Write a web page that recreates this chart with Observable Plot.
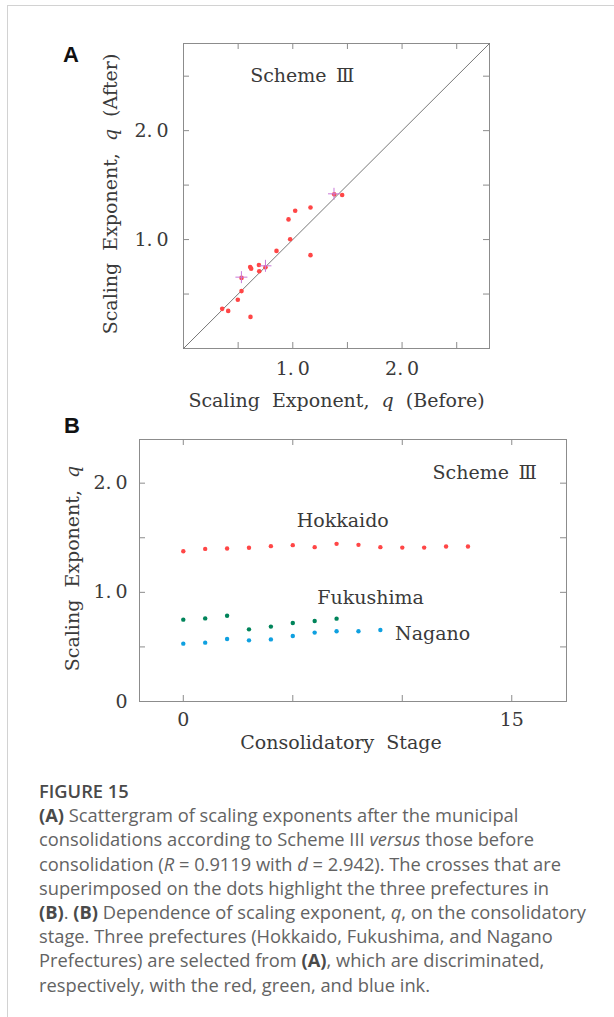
<!DOCTYPE html>
<html><head><meta charset="utf-8">
<script src="https://cdn.jsdelivr.net/npm/d3@7"></script>
<script src="https://cdn.jsdelivr.net/npm/@observablehq/plot@0.6"></script>
<style>
html,body{margin:0;padding:0;background:#fff;}
#page{position:relative;width:614px;height:1017px;overflow:hidden;background:#fff;}
#border{position:absolute;left:7px;top:5px;right:-2px;bottom:-2px;border-top:1px solid #d2d2d2;border-left:1px solid #d2d2d2;}
.letter{position:absolute;font-family:"Liberation Sans",Arial,sans-serif;font-weight:bold;font-size:22px;line-height:22px;color:#111;}
#chartA{position:absolute;left:0;top:0;}
#chartB{position:absolute;left:0;top:410px;}
#caption{position:absolute;left:39px;top:779px;font-family:"Open Sans",sans-serif;font-size:18.3px;line-height:24.2px;color:#636363;white-space:nowrap;}
#caption .fig{font-weight:600;color:#4a4a4a;}
#caption b{font-weight:700;color:#4a4a4a;}
</style>
</head><body>
<div id="page">
  <div id="border"></div>
  <div class="letter" style="left:63px;top:44px;">A</div>
  <div class="letter" style="left:64px;top:415px;">B</div>
  <div id="chartA"></div>
  <div id="chartB"></div>
  <div id="caption">
    <div class="fig">FIGURE 15</div>
    <div><b>(A)</b> Scattergram of scaling exponents after the municipal<br>consolidations according to Scheme III <i>versus</i> those before<br>consolidation (<i>R</i> = 0.9119 with <i>d</i> = 2.942). The crosses that are<br>superimposed on the dots highlight the three prefectures in<br><b>(B)</b>. <b>(B)</b> Dependence of scaling exponent, <i>q</i>, on the consolidatory<br>stage. Three prefectures (Hokkaido, Fukushima, and Nagano<br>Prefectures) are selected from <b>(A)</b>, which are discriminated,<br>respectively, with the red, green, and blue ink.</div>
  </div>
</div>
<script>
// ---------- Panel A data: scaling exponent q before / after consolidation ----------
const qBefore = [0.354, 0.409, 0.497, 0.531, 0.531, 0.613, 0.610, 0.619, 0.690, 0.693, 0.750, 0.851, 0.976, 0.961, 1.022, 1.162, 1.162, 1.379, 1.452];
const qAfter  = [0.364, 0.345, 0.448, 0.527, 0.648, 0.290, 0.748, 0.733, 0.766, 0.709, 0.745, 0.896, 1.003, 1.185, 1.264, 1.294, 0.857, 1.415, 1.409];

// ---------- Panel B data: q by consolidatory stage ----------
const prefNames = ["Hokkaido", "Fukushima", "Nagano"];
const qHokkaido  = [1.377, 1.398, 1.401, 1.408, 1.423, 1.432, 1.414, 1.444, 1.435, 1.414, 1.410, 1.410, 1.420, 1.420];
const qFukushima = [0.750, 0.761, 0.786, 0.661, 0.686, 0.719, 0.738, 0.759];
const qNagano    = [0.530, 0.539, 0.573, 0.560, 0.569, 0.600, 0.631, 0.643, 0.643, 0.655];
const prefColors = ["#ff4646", "#00845a", "#0fa0e0"];

// ---------- axes ----------
const domainA = [0, 2.8];
const ticksA = [0.5, 1, 1.5, 2, 2.5];
const labelsA = [1, 2];
const domainBx = [-2, 17.5];
const domainBy = [0, 2.4];
const ticksBx = [0, 5, 10, 15];
const labelsBx = [0, 15];
const ticksBy = [0.5, 1, 1.5, 2];
const labelsBy = [0, 1, 2];

// ---------- text ----------
const xLabelA = "Scaling Exponent, q (Before)";
const yLabelA = "Scaling Exponent, q (After)";
const xLabelB = "Consolidatory Stage";
const yLabelB = "Scaling Exponent, q";
const annotA = [{text: "Scheme\u2002Ⅲ", x: 0.61, y: 2.5}];
const annotB = [
  {text: "Scheme\u2002Ⅲ", x: 11.38, y: 2.096, anchor: "start"},
  {text: "Hokkaido", x: 7.28, y: 1.654, anchor: "middle"},
  {text: "Fukushima", x: 8.55, y: 0.953, anchor: "middle"},
  {text: "Nagano", x: 9.67, y: 0.622, anchor: "start"}
];

// ---------- derived tables ----------
const series = [qHokkaido, qFukushima, qNagano];
const ptsA = qBefore.map((b, i) => ({before: b, after: qAfter[i]}));
const crosses = series.map(v => ({before: v[0], after: v[v.length - 1]}));
const ptsB = series.flatMap((v, k) => v.map((q, stage) => ({name: prefNames[k], stage, q})));

const SERIF = '"DejaVu Serif", "Liberation Serif", serif';
const INK = "#3a3a3a";
const FRAME = "#8c8c8c";
const TICK = 6;
const fmt = d => d === 0 ? "0" : d.toFixed(1).replace(".", ".\u2009");
const fmtInt = d => String(d);

const crossSymbol = {
  draw(ctx, size) {
    const r = Math.sqrt(size / Math.PI);
    ctx.moveTo(-r, 0); ctx.lineTo(r, 0);
    ctx.moveTo(0, -r); ctx.lineTo(0, r);
  }
};

function italicQ(svg) {
  d3.select(svg).selectAll("text").each(function() {
    if (this.querySelector("tspan")) return;
    const t = this.textContent;
    if (!/\bq\b/.test(t)) return;
    const parts = t.split(/(\bq\b)/);
    this.textContent = "";
    for (const p of parts) {
      if (!p) continue;
      const ts = d3.select(this).append("tspan").text(p);
      if (p === "q") ts.attr("font-style", "italic");
    }
  });
}

const chartStyle = {fontFamily: SERIF, fontSize: "19px", color: INK, background: "transparent", overflow: "visible", wordSpacing: "6px"};

// ---------- Panel A ----------
{
  const W = 614, H = 415, mt = 43, ml = 183, mr = 125, mb = 67;
  const fw = W - ml - mr, fh = H - mt - mb;
  const chart = Plot.plot({
    width: W, height: H, marginTop: mt, marginLeft: ml, marginRight: mr, marginBottom: mb,
    x: {domain: domainA}, y: {domain: domainA},
    style: chartStyle,
    marks: [
      Plot.frame({stroke: FRAME}),
      Plot.ruleX(ticksA, {x: d => d, stroke: FRAME, insetTop: fh - TICK}),
      Plot.ruleX(ticksA, {x: d => d, stroke: FRAME, insetBottom: fh - TICK}),
      Plot.ruleY(ticksA, {y: d => d, stroke: FRAME, insetRight: fw - TICK}),
      Plot.ruleY(ticksA, {y: d => d, stroke: FRAME, insetLeft: fw - TICK}),
      Plot.line(domainA.map(v => ({v})), {x: "v", y: "v", stroke: "#777", strokeWidth: 1}),
      Plot.dot(ptsA, {x: "before", y: "after", r: 2.3, fill: prefColors[0], stroke: "none"}),
      Plot.dot(crosses, {x: "before", y: "after", r: 6, symbol: crossSymbol, fill: "none", stroke: "#c97ad8", strokeWidth: 1}),
      Plot.axisX({ticks: labelsA, tickSize: 0, tickPadding: 13, tickFormat: fmt, label: null, fill: INK}),
      Plot.axisY({ticks: labelsA, tickSize: 0, tickPadding: 15, tickFormat: fmt, label: null, fill: INK}),
      Plot.text([xLabelA], {text: d => d, frameAnchor: "bottom", textAnchor: "middle", lineAnchor: "middle", dy: 52, fill: INK}),
      Plot.text([yLabelA], {text: d => d, frameAnchor: "left", textAnchor: "middle", lineAnchor: "middle", rotate: -90, dx: -73, dy: -2, fill: INK}),
      Plot.text(annotA, {x: "x", y: "y", text: "text", textAnchor: "start", fill: INK})
    ]
  });
  italicQ(chart);
  document.getElementById("chartA").append(chart);
}

// ---------- Panel B ----------
{
  const W = 614, H = 350, mt = 29, ml = 139, mr = 48, mb = 59;
  const fw = W - ml - mr, fh = H - mt - mb;
  const chart = Plot.plot({
    width: W, height: H, marginTop: mt, marginLeft: ml, marginRight: mr, marginBottom: mb,
    x: {domain: domainBx}, y: {domain: domainBy},
    color: {domain: prefNames, range: prefColors},
    style: chartStyle,
    marks: [
      Plot.frame({stroke: FRAME}),
      Plot.ruleX(ticksBx, {x: d => d, stroke: FRAME, insetTop: fh - TICK}),
      Plot.ruleX(ticksBx, {x: d => d, stroke: FRAME, insetBottom: fh - TICK}),
      Plot.ruleY(ticksBy, {y: d => d, stroke: FRAME, insetRight: fw - TICK}),
      Plot.ruleY(ticksBy, {y: d => d, stroke: FRAME, insetLeft: fw - TICK}),
      Plot.dot(ptsB, {x: "stage", y: "q", r: 2.2, fill: "name", stroke: "none"}),
      Plot.axisX({ticks: labelsBx, tickSize: 0, tickPadding: 11, tickFormat: fmtInt, label: null, fill: INK}),
      Plot.axisY({ticks: labelsBy, tickSize: 0, tickPadding: 12, tickFormat: fmt, label: null, fill: INK}),
      Plot.text([xLabelB], {text: d => d, frameAnchor: "bottom", textAnchor: "middle", lineAnchor: "middle", dx: -12, dy: 41, fill: INK}),
      Plot.text([yLabelB], {text: d => d, frameAnchor: "left", textAnchor: "middle", lineAnchor: "middle", rotate: -90, dx: -67, dy: -2, fill: INK}),
      Plot.text(annotB.filter(d => d.anchor === "start"), {x: "x", y: "y", text: "text", textAnchor: "start", fill: INK}),
      Plot.text(annotB.filter(d => d.anchor === "middle"), {x: "x", y: "y", text: "text", textAnchor: "middle", fill: INK})
    ]
  });
  italicQ(chart);
  document.getElementById("chartB").append(chart);
}
</script>
</body></html>
